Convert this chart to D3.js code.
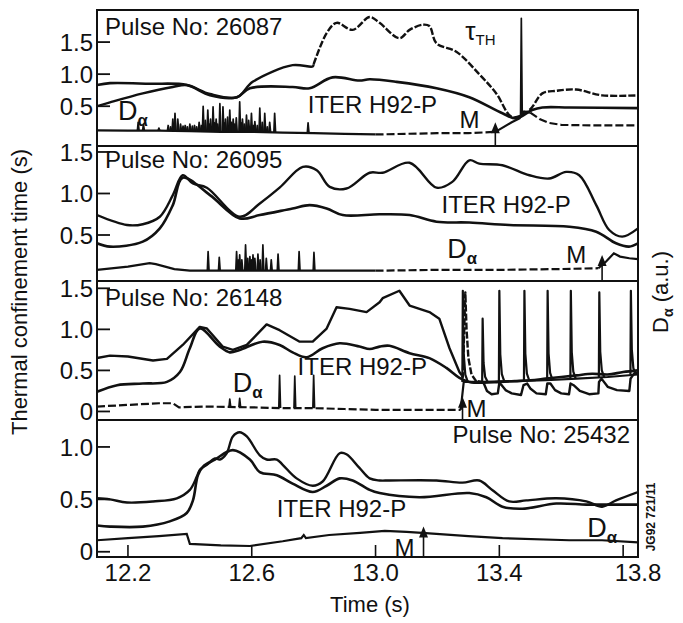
<!DOCTYPE html>
<html><head><meta charset="utf-8">
<script src="https://cdn.jsdelivr.net/npm/d3@7"></script>
<style>body{margin:0;background:#fff}svg{display:block}</style>
</head><body><svg id="c" width="683" height="623"></svg>
<script>
// ---------------- DATA ----------------
const timeTicks = [12.2, 12.6, 13.0, 13.4, 13.8];
const timeDomain = [12.1, 13.848];
const pulseNames = ["26087", "26095", "26148", "25432"];
const yTickValues = [[0.5, 1.0, 1.5], [0.5, 1.0, 1.5], [0, 0.5, 1.0, 1.5], [0, 0.5, 1.0]];
const yDomains = [[-0.12, 2.0], [-0.054, 1.572], [-0.104, 1.589], [-0.05, 1.257]];

// Panel 1 : 26087
const p1Tau = [[12.1,0.5],[12.142,0.56],[12.248,0.7],[12.345,0.8],[12.39,0.83],[12.465,0.69],[12.552,0.64],[12.603,0.88],[12.732,1.14],[12.797,1.12],[12.842,1.64],[12.874,1.8],[12.926,1.69],[12.981,1.89],[13.013,1.8],[13.077,1.56],[13.11,1.69],[13.152,1.77],[13.174,1.75],[13.197,1.48],[13.261,1.35],[13.335,1.0],[13.39,0.7],[13.442,0.33],[13.497,0.44],[13.539,0.7],[13.584,0.74],[13.648,0.76],[13.732,0.67],[13.848,0.67]];
const p1Iter = [[12.1,0.83],[12.142,0.86],[12.271,0.85],[12.39,0.83],[12.465,0.67],[12.552,0.64],[12.594,0.78],[12.732,0.8],[12.787,0.78],[12.861,0.95],[12.948,0.9],[12.981,0.92],[13.068,0.88],[13.197,0.78],[13.303,0.64],[13.41,0.39],[13.455,0.31],[13.506,0.44],[13.539,0.48],[13.626,0.48],[13.848,0.47]];
const p1DaBase = [[12.1,0.125],[12.2,0.12],[12.3,0.12],[12.4,0.11],[12.5,0.1],[12.6,0.1],[12.7,0.09],[12.8,0.08],[12.9,0.07],[13.0,0.06],[13.1,0.07],[13.2,0.08],[13.3,0.08],[13.387,0.1],[13.44,0.25],[13.465,0.31],[13.48,0.42],[13.5,0.4],[13.53,0.3],[13.56,0.24],[13.6,0.21],[13.7,0.2],[13.848,0.2]];
const p1DaSpikes = [[12.233,0.25],[12.25,0.22],[12.30,0.16],[12.33,0.2],[12.338,0.18],[12.345,0.30],[12.352,0.39],[12.361,0.30],[12.37,0.22],[12.378,0.19],[12.385,0.2],[12.392,0.18],[12.40,0.22],[12.408,0.19],[12.415,0.2],[12.422,0.18],[12.43,0.25],[12.437,0.2],[12.443,0.50],[12.45,0.28],[12.458,0.44],[12.463,0.22],[12.467,0.3],[12.475,0.49],[12.48,0.24],[12.485,0.3],[12.49,0.22],[12.497,0.54],[12.507,0.49],[12.511,0.24],[12.515,0.3],[12.522,0.33],[12.529,0.44],[12.535,0.25],[12.54,0.3],[12.545,0.22],[12.55,0.32],[12.561,0.57],[12.566,0.24],[12.57,0.3],[12.576,0.22],[12.583,0.36],[12.59,0.28],[12.599,0.39],[12.605,0.2],[12.61,0.26],[12.618,0.2],[12.626,0.47],[12.634,0.25],[12.642,0.39],[12.65,0.18],[12.658,0.25],[12.674,0.39],[12.782,0.24],[13.471,1.87]];

// Panel 2 : 26095
const p2Tau = [[12.1,0.74],[12.197,0.62],[12.248,0.63],[12.303,0.72],[12.345,0.98],[12.377,1.22],[12.41,1.12],[12.455,1.07],[12.561,0.72],[12.626,0.88],[12.69,1.07],[12.765,1.32],[12.81,1.28],[12.852,1.08],[12.906,1.06],[12.981,1.25],[13.023,1.25],[13.11,1.37],[13.197,1.07],[13.248,1.14],[13.303,1.40],[13.335,1.36],[13.41,1.34],[13.497,1.22],[13.561,1.18],[13.616,1.26],[13.658,1.22],[13.713,0.86],[13.755,0.56],[13.797,0.48],[13.848,0.58]];
const p2Iter = [[12.1,0.40],[12.142,0.36],[12.248,0.42],[12.303,0.58],[12.345,0.86],[12.377,1.19],[12.465,0.98],[12.561,0.70],[12.626,0.74],[12.732,0.82],[12.787,0.86],[12.842,0.82],[12.894,0.74],[13.013,0.75],[13.11,0.74],[13.197,0.66],[13.303,0.65],[13.432,0.62],[13.626,0.60],[13.713,0.54],[13.777,0.40],[13.819,0.36],[13.848,0.40]];
const p2DaBase = [[12.1,0.08],[12.2,0.12],[12.27,0.16],[12.29,0.15],[12.35,0.09],[12.4,0.07],[12.5,0.07],[12.6,0.07],[12.7,0.07],[12.8,0.07],[12.9,0.07],[13.0,0.07],[13.2,0.08],[13.4,0.08],[13.6,0.09],[13.72,0.1],[13.745,0.18],[13.77,0.28],[13.79,0.24],[13.82,0.22],[13.848,0.21]];
const p2DaSpikes = [[12.459,0.30],[12.495,0.23],[12.551,0.30],[12.556,0.2],[12.561,0.26],[12.568,0.2],[12.58,0.38],[12.587,0.22],[12.594,0.24],[12.6,0.2],[12.604,0.26],[12.61,0.22],[12.62,0.27],[12.627,0.2],[12.636,0.38],[12.647,0.22],[12.663,0.2],[12.685,0.27],[12.753,0.30],[12.801,0.29]];

// Panel 3 : 26148
const p3Tau = [[12.1,0.65],[12.142,0.68],[12.2,0.67],[12.281,0.62],[12.326,0.64],[12.377,0.81],[12.432,1.03],[12.455,1.01],[12.506,0.79],[12.539,0.75],[12.584,0.81],[12.648,1.06],[12.69,0.99],[12.755,0.85],[12.797,0.85],[12.842,1.01],[12.874,1.27],[12.916,1.25],[12.971,1.21],[13.013,1.33],[13.023,1.38],[13.077,1.47],[13.11,1.29],[13.174,1.21],[13.206,1.13],[13.239,0.77],[13.271,0.48],[13.282,0.42],[13.29,1.45],[13.294,1.0],[13.30,0.65],[13.31,0.45],[13.325,0.37],[13.343,0.36],[13.35,0.34],[13.36,0.25],[13.375,0.21],[13.395,0.22],[13.40,0.35],[13.405,0.33],[13.42,0.26],[13.44,0.22],[13.47,0.2],[13.478,0.32],[13.49,0.34],[13.50,0.28],[13.52,0.22],[13.55,0.21],[13.555,0.34],[13.565,0.34],[13.58,0.26],[13.60,0.22],[13.625,0.21],[13.63,0.34],[13.64,0.32],[13.66,0.25],[13.69,0.21],[13.72,0.22],[13.722,0.36],[13.73,0.40],[13.75,0.3],[13.78,0.26],[13.82,0.25],[13.824,0.4],[13.835,0.46],[13.848,0.47]];
const p3Iter = [[12.1,0.24],[12.165,0.32],[12.248,0.34],[12.326,0.36],[12.368,0.48],[12.4,0.77],[12.432,1.01],[12.497,0.79],[12.529,0.72],[12.561,0.75],[12.635,0.85],[12.69,0.81],[12.732,0.72],[12.777,0.66],[12.829,0.77],[12.884,0.83],[12.948,0.79],[12.981,0.76],[13.013,0.79],[13.045,0.80],[13.11,0.71],[13.174,0.65],[13.229,0.53],[13.271,0.41],[13.303,0.36],[13.35,0.35],[13.4,0.36],[13.45,0.37],[13.5,0.38],[13.55,0.40],[13.6,0.42],[13.65,0.44],[13.7,0.46],[13.75,0.45],[13.8,0.48],[13.848,0.5]];
const p3DaBase = [[12.1,0.06],[12.2,0.08],[12.3,0.1],[12.345,0.1],[12.365,0.05],[12.45,0.06],[12.6,0.05],[12.7,0.04],[12.8,0.04],[12.9,0.03],[13.0,0.02],[13.275,0.02],[13.285,0.36],[13.35,0.36],[13.45,0.37],[13.55,0.38],[13.65,0.40],[13.75,0.42],[13.848,0.45]];
const p3DaSpikes = [[12.529,0.15],[12.561,0.16],[12.69,0.44],[12.739,0.43],[12.8,0.44]];
const p3ElmSpikes = [[13.282,1.47],[13.346,1.13],[13.40,1.47],[13.481,1.47],[13.556,1.47],[13.631,1.47],[13.723,1.45],[13.825,1.47]];

// Panel 4 : 25432
const p4Tau = [[12.1,0.51],[12.142,0.5],[12.197,0.47],[12.281,0.48],[12.358,0.51],[12.4,0.59],[12.423,0.72],[12.432,0.78],[12.455,0.83],[12.481,0.89],[12.497,0.88],[12.519,0.94],[12.539,1.10],[12.561,1.14],[12.584,1.10],[12.626,0.92],[12.648,0.88],[12.681,0.88],[12.7,0.83],[12.745,0.70],[12.797,0.63],[12.829,0.67],[12.884,0.94],[12.906,0.93],[12.948,0.80],[12.981,0.70],[13.013,0.68],[13.045,0.68],[13.197,0.68],[13.281,0.66],[13.335,0.68],[13.377,0.59],[13.432,0.48],[13.487,0.49],[13.584,0.51],[13.681,0.48],[13.732,0.43],[13.777,0.49],[13.848,0.57]];
const p4Iter = [[12.1,0.25],[12.142,0.24],[12.248,0.24],[12.335,0.29],[12.39,0.37],[12.41,0.49],[12.426,0.73],[12.442,0.81],[12.481,0.88],[12.539,0.97],[12.594,0.88],[12.626,0.76],[12.681,0.73],[12.732,0.65],[12.797,0.57],[12.842,0.63],[12.884,0.70],[12.926,0.68],[12.981,0.59],[13.013,0.56],[13.142,0.52],[13.303,0.56],[13.358,0.52],[13.41,0.43],[13.474,0.41],[13.584,0.46],[13.681,0.45],[13.745,0.45],[13.848,0.45]];
const p4DaBase = [[12.1,0.11],[12.2,0.13],[12.3,0.15],[12.39,0.17],[12.4,0.075],[12.5,0.06],[12.594,0.055],[12.7,0.1],[12.76,0.13],[12.768,0.16],[12.775,0.13],[12.85,0.16],[12.95,0.18],[13.03,0.2],[13.1,0.19],[13.15,0.18],[13.3,0.15],[13.41,0.13],[13.626,0.11],[13.732,0.11],[13.848,0.09]];

// Marker "M" arrows: [time, tip value]
const mArrows = [[13.387,0.25],[13.732,0.26],[13.281,0.18],[13.155,0.24]];

// ---------------- LAYOUT ----------------
const W = 683, H = 623;
const left = 97, right = 638;
const edges = [10, 146, 281, 420, 557];
const FONT = "'Liberation Sans', Arial, Helvetica, sans-serif";

const svg = d3.select("#c");
svg.append("rect").attr("width", W).attr("height", H).attr("fill", "#fff");
const x = d3.scaleLinear().domain(timeDomain).range([left, right]);

const panels = [
  {tau: p1Tau, iter: p1Iter, daBase: p1DaBase, spikes: p1DaSpikes, elm: [], tauDash: [[12.8, 13.848]], daDash: [[13.0, 13.39], [13.5, 13.848]]},
  {tau: p2Tau, iter: p2Iter, daBase: p2DaBase, spikes: p2DaSpikes, elm: [], tauDash: [], daDash: [[13.0, 13.72]]},
  {tau: p3Tau, iter: p3Iter, daBase: p3DaBase, spikes: p3DaSpikes, elm: p3ElmSpikes, tauDash: [[13.278, 13.33]], daDash: [[12.1, 13.275]]},
  {tau: p4Tau, iter: p4Iter, daBase: p4DaBase, spikes: [], elm: [], tauDash: [], daDash: []}
];

function interp(arr, t) {
  if (t <= arr[0][0]) return arr[0][1];
  for (let i = 1; i < arr.length; i++) {
    if (t <= arr[i][0]) {
      const a = arr[i-1], b = arr[i];
      return a[1] + (b[1]-a[1]) * (t-a[0]) / (b[0]-a[0]);
    }
  }
  return arr[arr.length-1][1];
}
function sub(arr, a, b) {
  const out = [[a, interp(arr, a)]];
  arr.forEach(d => { if (d[0] > a && d[0] < b) out.push(d); });
  out.push([b, interp(arr, b)]);
  return out;
}
function pieces(arr, ranges) {
  const t0 = arr[0][0], t1 = arr[arr.length-1][0];
  const res = []; let cur = t0;
  ranges.forEach(([a, b]) => {
    a = Math.max(a, t0); b = Math.min(b, t1);
    if (a > cur) res.push([sub(arr, cur, a), false]);
    res.push([sub(arr, a, b), true]);
    cur = b;
  });
  if (cur < t1) res.push([sub(arr, cur, t1), false]);
  return res;
}

panels.forEach((p, i) => {
  const top = edges[i], bot = edges[i+1];
  const y = d3.scaleLinear().domain(yDomains[i]).range([bot, top]);
  const clipId = "clip" + i;
  svg.append("clipPath").attr("id", clipId).append("rect")
    .attr("x", left).attr("y", top).attr("width", right-left).attr("height", bot-top);
  const g = svg.append("g").attr("clip-path", `url(#${clipId})`);
  const smooth = d3.line().x(d => x(d[0])).y(d => y(d[1])).curve(d3.curveCatmullRom.alpha(0.5));
  const lin = d3.line().x(d => x(d[0])).y(d => y(d[1]));

  g.append("path").attr("d", smooth(p.iter)).attr("fill", "none").attr("stroke", "#111").attr("stroke-width", 2.6).attr("stroke-linejoin", "round");
  pieces(p.tau, p.tauDash).forEach(([seg, dashed]) => {
    g.append("path").attr("d", (i === 2 ? lin : smooth)(seg)).attr("fill", "none").attr("stroke", "#111")
      .attr("stroke-width", 2.4).attr("stroke-linejoin", "round")
      .attr("stroke-dasharray", dashed ? "7,2" : null);
  });
  pieces(p.daBase, p.daDash).forEach(([seg, dashed]) => {
    g.append("path").attr("d", lin(seg)).attr("fill", "none").attr("stroke", "#111")
      .attr("stroke-width", 2.2).attr("stroke-dasharray", dashed ? "8,3" : null);
  });
  p.spikes.forEach(([t, v]) => {
    const b = interp(p.daBase, t);
    g.append("path").attr("d", lin([[t-0.0025, b], [t, v], [t+0.003, b]]))
      .attr("fill", "none").attr("stroke", "#111").attr("stroke-width", 1.7).attr("stroke-linejoin", "round");
  });
  p.elm.forEach(([t, v]) => {
    const b = interp(p.daBase, t + 0.01);
    g.append("path").attr("d", lin([[t-0.0015, b], [t, v], [t+0.003, b+(v-b)*0.3], [t+0.008, b+(v-b)*0.08], [t+0.016, b]]))
      .attr("fill", "none").attr("stroke", "#111").attr("stroke-width", 2.2).attr("stroke-linejoin", "round");
  });

  const [mt, mv] = mArrows[i];
  const ax = x(mt), ay = y(mv);
  svg.append("line").attr("x1", ax).attr("x2", ax).attr("y1", bot).attr("y2", ay + 6)
    .attr("stroke", "#111").attr("stroke-width", 1.6);
  svg.append("path").attr("d", `M${ax},${ay} L${ax-4.5},${ay+11} L${ax+4.5},${ay+11} Z`).attr("fill", "#111");

  yTickValues[i].forEach(v => {
    svg.append("line").attr("x1", left).attr("x2", left + 13).attr("y1", y(v)).attr("y2", y(v))
      .attr("stroke", "#111").attr("stroke-width", 1.8);
    svg.append("text").attr("x", left - 4).attr("y", y(v)).attr("dy", "0.36em")
      .attr("text-anchor", "end").attr("font-family", FONT).attr("font-size", 24).attr("fill", "#111")
      .text(v === 0 ? "0" : d3.format(".1f")(v));
  });

  p.y = y;
});

svg.append("rect").attr("x", left).attr("y", edges[0]).attr("width", right-left).attr("height", edges[4]-edges[0])
  .attr("fill", "none").attr("stroke", "#111").attr("stroke-width", 2);
[1, 2, 3].forEach(k => svg.append("line").attr("x1", left).attr("x2", right).attr("y1", edges[k]).attr("y2", edges[k])
  .attr("stroke", "#111").attr("stroke-width", 2));

timeTicks.forEach((t, k) => {
  svg.append("line").attr("x1", x(t)).attr("x2", x(t)).attr("y1", edges[4]).attr("y2", edges[4]-12)
    .attr("stroke", "#111").attr("stroke-width", 1.6);
  const lx = k === timeTicks.length - 1 ? x.range()[1] : x(t);
  svg.append("text").attr("x", lx).attr("y", 581).attr("text-anchor", "middle")
    .attr("font-family", FONT).attr("font-size", 24).attr("fill", "#111").text(d3.format(".1f")(t));
});

function txt(xp, yp, s, size, anchor) {
  return svg.append("text").attr("x", xp).attr("y", yp).attr("font-family", FONT).attr("font-size", size)
    .attr("fill", "#111").attr("text-anchor", anchor || "start").text(s);
}
function dAlpha(xp, yp, size) {
  const t = svg.append("text").attr("x", xp).attr("y", yp).attr("font-family", FONT).attr("font-size", size).attr("fill", "#111");
  t.append("tspan").text("D");
  t.append("tspan").attr("font-size", size * 0.62).attr("dy", size * 0.22).attr("font-weight", "bold").text("α");
}

txt(105, edges[0] + 25, "Pulse No: " + pulseNames[0], 24);
txt(105, edges[1] + 22, "Pulse No: " + pulseNames[1], 24);
txt(105, edges[2] + 25, "Pulse No: " + pulseNames[2], 24);
txt(630, edges[3] + 23, "Pulse No: " + pulseNames[3], 24, "end");

const P = panels;
txt(x(12.781), P[0].y(0.39), "ITER H92-P", 24);
txt(x(13.213), P[1].y(0.76), "ITER H92-P", 24);
txt(x(12.748), P[2].y(0.44), "ITER H92-P", 24);
txt(x(12.681), P[3].y(0.33), "ITER H92-P", 24);

dAlpha(x(12.168), P[0].y(0.28), 27);
dAlpha(x(13.232), P[1].y(0.22), 27);
dAlpha(x(12.539), P[2].y(0.24), 27);
dAlpha(x(13.684), P[3].y(0.14), 27);

txt(x(13.271), P[0].y(0.16), "M", 24);
txt(x(13.616), P[1].y(0.16), "M", 24);
txt(x(13.294), P[2].y(-0.07), "M", 24);
txt(x(13.061), P[3].y(-0.04), "M", 24);

const tau = svg.append("text").attr("x", x(13.29)).attr("y", P[0].y(1.53)).attr("font-family", FONT).attr("font-size", 26).attr("fill", "#111");
tau.append("tspan").text("τ");
tau.append("tspan").attr("font-size", 15).attr("dy", 5).text("TH");

txt(370, 612, "Time (s)", 22, "middle");
svg.append("text").attr("transform", "translate(27,292) rotate(-90)").attr("text-anchor", "middle")
  .attr("font-family", FONT).attr("font-size", 22).attr("fill", "#111").text("Thermal confinement time (s)");
const ra = svg.append("text").attr("transform", "translate(668,292) rotate(-90)").attr("text-anchor", "middle")
  .attr("font-family", FONT).attr("font-size", 22).attr("fill", "#111");
ra.append("tspan").text("D");
ra.append("tspan").attr("font-size", 14).attr("dy", 5).attr("font-weight", "bold").text("α");
ra.append("tspan").attr("dy", -5).text(" (a.u.)");
svg.append("text").attr("transform", "translate(655,517) rotate(-90)").attr("text-anchor", "middle")
  .attr("font-family", FONT).attr("font-size", 12).attr("font-weight", "bold").attr("fill", "#111").text("JG92 721/11");
</script></body></html>
